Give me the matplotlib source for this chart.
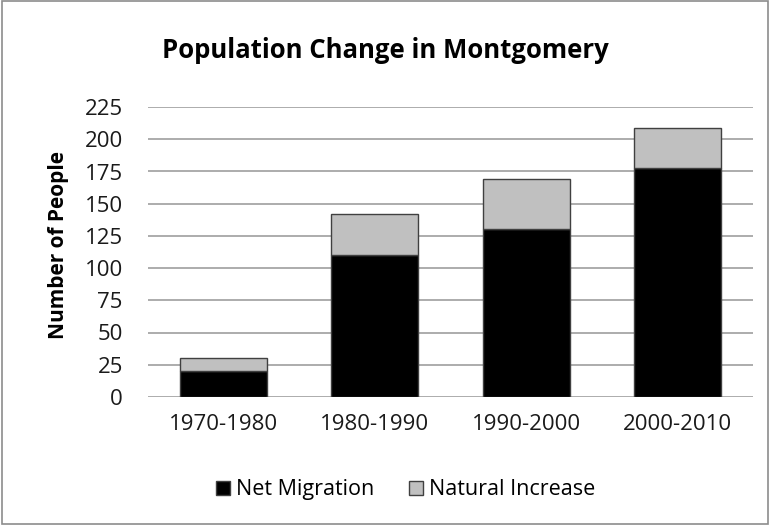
import matplotlib.pyplot as plt
import numpy as np
from matplotlib.patches import Rectangle

plt.rcParams['font.family'] = ['Open Sans', 'DejaVu Sans']

decades = ['1970-1980', '1980-1990', '1990-2000', '2000-2010']
net_migration = [20, 110, 130, 178]
natural_increase = [10, 32, 39, 31]
yticks = [0, 25, 50, 75, 100, 125, 150, 175, 200, 225]

fig = plt.figure(figsize=(7.7, 5.25), dpi=100)
ax = fig.add_axes([0.192, 0.244, 0.786, 0.552])

x = np.arange(len(decades))
w = 0.575
ax.bar(x, net_migration, w, color='black', edgecolor='#404040', linewidth=1,
       label='Net Migration', zorder=3)
ax.bar(x, natural_increase, w, bottom=net_migration, color='#c0c0c0',
       edgecolor='#404040', linewidth=1, label='Natural Increase', zorder=3)

ax.set_xlim(-0.5, len(decades) - 0.5)
ax.set_ylim(0, 225)
ax.set_yticks(yticks)
ax.set_xticks(x)
ax.set_xticklabels(decades)
ax.tick_params(length=0, labelsize=16, colors='#1a1a1a')
ax.tick_params(axis='x', pad=12)
ax.tick_params(axis='y', pad=18)
ax.yaxis.grid(True, color='#a6a6a6', linewidth=1.3, zorder=0)
ax.set_axisbelow(True)
for s in ax.spines.values():
    s.set_visible(False)

ax.set_ylabel('Number of People', fontsize=15, fontweight='bold')
ax.yaxis.set_label_coords(-0.13, 0.524)
fig.text(0.5, 0.903, 'Population Change in Montgomery', fontsize=18.5,
         fontweight='bold', ha='center', va='center')

fig.legend(loc='center', bbox_to_anchor=(0.527, 0.067), ncol=2, frameon=False,
           fontsize=15.5, handlelength=0.65, handleheight=0.65, handletextpad=0.3,
           columnspacing=1.6)

fig.patches.append(Rectangle((0.002, 0.002), 0.996, 0.996, transform=fig.transFigure,
                             fill=False, edgecolor='#8c8c8c', linewidth=1.2))

fig.savefig('out.png', dpi=100)
